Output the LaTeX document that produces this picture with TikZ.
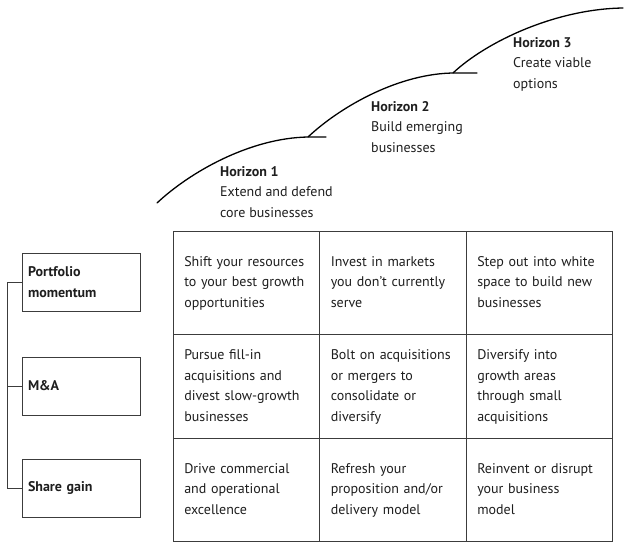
\documentclass[tikz,border=0pt]{standalone}
\usepackage{fontspec}
\setmainfont{PT Sans}
\usetikzlibrary{positioning}
\definecolor{linegray}{HTML}{3C3C3C}
\definecolor{textgray}{HTML}{1E1E1E}
\tikzset{
    cell/.style={rectangle, draw=linegray, line width=0.9pt, outer sep=0pt, minimum width=146.5pt, minimum height=103.5pt, text width=124pt, inner xsep=11.25pt, align=left, text=textgray, font=\fontsize{14}{20.6}\selectfont, execute at begin node=\strut, execute at end node=\strut},
    lever/.style={rectangle, draw=linegray, line width=0.9pt, outer sep=0pt, minimum width=118pt, minimum height=58pt, text width=106pt, inner xsep=6pt, align=left, text=textgray, font=\fontsize{14}{20.6}\selectfont\bfseries},
    horizon/.style={anchor=north west, inner sep=0pt, align=left, text=textgray, font=\fontsize{14}{20.6}\selectfont},
    stepline/.style={line width=1.3pt, line cap=round}
}

\begin{document}
\begin{tikzpicture}[x=1pt, y=-1pt, node distance=0pt]
    \useasboundingbox (0,0) rectangle (637,554);
    % horizon steps
    \draw[stepline] (157,203) .. controls (190,172) and (250,138) .. (308,137) -- (326,137);
    \draw[stepline] (308,137) .. controls (341,106) and (400,73) .. (455,73) -- (477,73);
    \draw[stepline] (453,73) .. controls (486,42) and (555,9) .. (623,8);
    \node[horizon] (h1) at (220,166) {\textbf{Horizon 1}\\Extend and defend\\core businesses};
    \node[horizon] (h2) at (371,101) {\textbf{Horizon 2}\\Build emerging\\businesses};
    \node[horizon] (h3) at (513,37) {\textbf{Horizon 3}\\Create viable\\options};
    % grid of moves
    \node[cell, anchor=north west] (c11) at (173,231) {Shift your resources\\to your best growth\\opportunities};
    \node[cell, right=of c11] (c12) {Invest in markets\\you don’t currently\\serve};
    \node[cell, right=of c12] (c13) {Step out into white\\space to build new\\businesses};
    \node[cell, below=of c11] (c21) {Pursue fill-in\\acquisitions and\\divest slow-growth\\businesses};
    \node[cell, right=of c21] (c22) {Bolt on acquisitions\\or mergers to\\consolidate or\\diversify};
    \node[cell, right=of c22] (c23) {Diversify into\\growth areas\\through small\\acquisitions};
    \node[cell, below=of c21] (c31) {Drive commercial\\and operational\\excellence};
    \node[cell, right=of c31] (c32) {Refresh your\\proposition and/or\\delivery model};
    \node[cell, right=of c32] (c33) {Reinvent or disrupt\\your business\\model};
    % growth levers
    \node[lever, anchor=north west] (pm) at (22,253) {Portfolio\\momentum};
    \node[lever, below=46pt of pm] (ma) {M\&A};
    \node[lever, below=44pt of ma] (sg) {Share gain};
    \draw[linegray, line width=0.9pt] (pm.west) -- ++(-15,0) |- (sg.west);
    \draw[linegray, line width=0.9pt] (ma.west) -- ++(-15,0);
\end{tikzpicture}
\end{document}
